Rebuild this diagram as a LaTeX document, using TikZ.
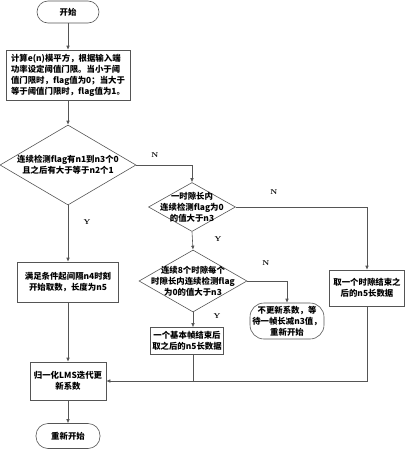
\documentclass[tikz,border=0pt]{standalone}
\usepackage{fontspec}
\newfontfamily\cjk{Noto Sans CJK SC}
\usepackage{tikz}
\definecolor{LineGray}{RGB}{85,85,85}
\usetikzlibrary{positioning, arrows.meta, shapes.geometric}

\begin{document}
\begin{tikzpicture}[x=1pt, y=-1pt, line width=0.6pt,
    every node/.style={font=\cjk\bfseries\fontsize{8.4}{11}\selectfont, align=center, inner sep=1pt},
    procbox/.style={draw=LineGray, rectangle},
    termbox/.style={draw=LineGray, rounded corners=11pt},
    decide/.style={draw=LineGray, diamond, inner sep=0pt},
    flow/.style={draw=LineGray, -{Latex[length=4pt,width=3.6pt]}},
    yn/.style={font=\bfseries\fontsize{7}{8}\selectfont}]
  \useasboundingbox (0,0) rectangle (405,450);
  \node[termbox, minimum width=62pt, minimum height=22pt] (start) at (68,12) {开始};
  \node[procbox, minimum width=124pt, minimum height=50pt, align=left] (calc) at (68,75)
    {计算e(n)模平方，根据输入端\\功率设定阈值门限。当小于阈\\值门限时，flag值为0；当大于\\等于阈值门限时，flag值为1。};
  \node[decide, minimum width=136pt, minimum height=80pt,
    label={center:{连续检测flag有n1到n3个0\\且之后有大于等于n2个1}}] (chk1) at (68,165) {};
  \node[decide, minimum width=87pt, minimum height=49pt,
    label={center:{一时隙长内\\连续检测flag为0\\的值大于n3}}] (chk2) at (192,207) {};
  \node[decide, minimum width=108pt, minimum height=62pt,
    label={center:{连续8个时隙每个\\时隙长内连续检测flag\\为0的值大于n3}}] (chk3) at (193,281) {};
  \node[termbox, rounded corners=14pt, minimum width=74pt, minimum height=36pt] (wait) at (287,321)
    {不更新系数，等\\待一帧长减n3值，\\重新开始};
  \node[procbox, minimum width=73pt, minimum height=27pt] (frame) at (187,341)
    {一个基本帧结束后\\取之后的n5长数据};
  \node[procbox, minimum width=75pt, minimum height=36pt] (slot) at (367,288)
    {取一个时隙结束之\\后的n5长数据};
  \node[procbox, minimum width=101pt, minimum height=40pt] (take) at (68,282)
    {满足条件起间隔n4时刻\\开始取数，长度为n5};
  \node[procbox, minimum width=76pt, minimum height=38pt] (lms) at (68,381)
    {归一化LMS迭代更\\新系数};
  \node[termbox, minimum width=64pt, minimum height=25pt, rounded corners=12pt] (restart) at (68,436) {重新开始};
  \coordinate (join) at (chk3.south |- lms.east);

  \draw[flow] (start) -- (calc);
  \draw[flow] (calc) -- (chk1);
  \draw[flow] (chk1.east) -| (chk2.north);
  \draw[flow] (chk1.south) -- (take.north);
  \draw[flow] (chk2.east) -| (slot.north);
  \draw[flow] (chk2.south) -- (chk3.north);
  \draw[flow] (chk3.east) -| (wait.north);
  \draw[flow] (chk3.south) -- (chk3.south |- frame.north);
  \draw[flow] (take.south) -- (lms.north);
  \draw[draw=LineGray] (chk3.south |- frame.south) -- (join);
  \draw[draw=LineGray] (slot.south) |- (join);
  \draw[flow] (join) -- (lms.east);
  \draw[flow] (lms) -- (restart);

  \node[yn] (n1) at (155,155) {N};
  \node[yn] (y1) at (87,222) {Y};
  \node[yn] (n2) at (274,192) {N};
  \node[yn] (y2) at (218,239) {Y};
  \node[yn] (n3) at (266,263) {N};
  \node[yn] (y3) at (217,316) {Y};
\end{tikzpicture}
\end{document}
